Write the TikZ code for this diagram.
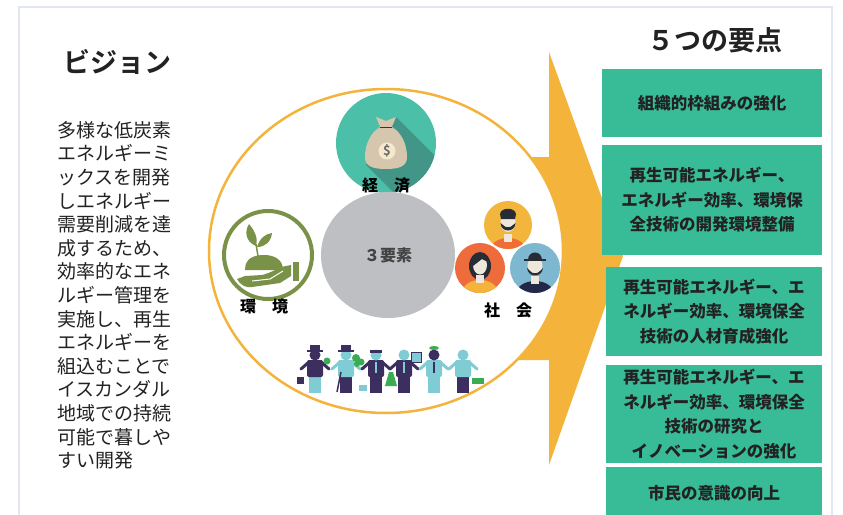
\documentclass[tikz,border=0pt]{standalone}
\usepackage{fontspec}
\setmainfont{Noto Sans CJK JP}[BoldFont={Noto Sans CJK JP Bold}]
\newfontfamily\heavyfont{Noto Sans CJK JP Black}
\usetikzlibrary{positioning}

\definecolor{arrowYellow}{RGB}{244,180,60}
\definecolor{boxGreen}{RGB}{56,188,152}
\definecolor{frameBlue}{RGB}{226,230,243}
\definecolor{ecoTeal}{RGB}{76,191,168}
\definecolor{ecoShadow}{RGB}{66,150,136}
\definecolor{bagBeige}{RGB}{214,198,174}
\definecolor{bagCream}{RGB}{246,232,205}
\definecolor{envOlive}{RGB}{122,145,72}
\definecolor{coreGray}{RGB}{190,191,195}
\definecolor{faceOrange}{RGB}{243,182,60}
\definecolor{faceRed}{RGB}{238,108,60}
\definecolor{faceBlue}{RGB}{125,184,208}
\definecolor{skin}{RGB}{238,232,220}
\definecolor{hairDark}{RGB}{40,44,52}
\definecolor{crowdPurple}{RGB}{60,46,94}
\definecolor{crowdCyan}{RGB}{128,204,212}
\definecolor{leafGreen}{RGB}{58,172,82}
\definecolor{textDark}{RGB}{34,34,34}

\begin{document}
\begin{tikzpicture}[
        x=1pt, y=-1pt,
        % Define styles for consistency
        frame/.style={draw=frameBlue, line width=1.5pt},
        heading/.style={font=\fontsize{27}{30}\bfseries\selectfont, text=textDark, inner sep=0pt},
        pointbox/.style={fill=boxGreen, text=textDark, align=center, inner sep=0pt,
            font=\fontsize{16.5}{24.5}\heavyfont},
        tag/.style={font=\fontsize{16}{18}\heavyfont, text=black, inner sep=0pt}
    ]

        \useasboundingbox (0,0) rectangle (843,514);
        \fill[white] (0,0) rectangle (843,514);

        % --- Coordinates ---
        % Three elements
        \coordinate (core) at (388,255);
        \coordinate (eco) at (386,143);
        \coordinate (env) at (268,255);
        \coordinate (soc_top) at (508,225);
        \coordinate (soc_left) at (480,268);
        \coordinate (soc_right) at (535,268);

        % Outer frame
        \draw[frame] (19,7) rectangle (832,530);

        % --- Arrow (behind the big circle) ---
        \fill[arrowYellow] (500,157) -- (549,157) -- (549,52) -- (623,256)
            -- (549,465) -- (549,360) -- (500,360) -- cycle;
        \draw[arrowYellow, line width=2.5pt, fill=white] (386,251) ellipse [x radius=177, y radius=162];

        % --- Vision ---
        \node[heading] (vision) at (117,62) {ビジョン};
        \node[anchor=north west, align=left, inner sep=0pt, text=textDark,
            font=\fontsize{19}{23.6}\selectfont] (vision_text) at (57,121)
            {多様な低炭素\\エネルギーミ\\ックスを開発\\しエネルギー\\需要削減を達\\
             成するため、\\効率的なエネ\\ルギー管理を\\実施し、再生\\エネルギーを\\
             組込むことで\\イスカンダル\\地域での持続\\可能で暮しや\\すい開発};

        % --- Economy: money bag ---
        \fill[ecoTeal] (eco) circle (50);
        \begin{scope}
            \clip (eco) circle (50);
            \fill[ecoShadow] (396,117) -- (496,217) -- (466,265) -- (366,165) -- cycle;
        \end{scope}
        \fill[bagBeige] (380,127) .. controls (370,133) and (365,145) .. (365,157)
            .. controls (365,166) and (372,169) .. (386,169)
            .. controls (400,169) and (407,166) .. (407,157)
            .. controls (407,145) and (402,133) .. (392,127) -- cycle;
        \fill[bagBeige] (381,129) -- (376,117) -- (386,121) -- (396,117) -- (391,129) -- cycle;
        \draw[red!70!black, line width=1.5pt] (380,127.5) -- (392,127.5);
        \fill[bagCream] (387,151) circle (8.5);
        \node[font=\fontsize{13}{13}\bfseries\selectfont, text=gray!80!black, inner sep=0pt]
            (dollar) at (387,151) {\$};
        \node[tag] (eco_label) at (386,186) {経　済};

        % --- Core ---
        \fill[coreGray] (core) ellipse [x radius=67, y radius=63];
        \node[font=\fontsize{16}{18}\heavyfont, text=textDark!85, inner sep=0pt]
            (core_label) at (core) {３要素};

        % --- Environment: hand and sprout ---
        \draw[envOlive, line width=4pt] (env) circle (44);
        \fill[envOlive] (245,270) .. controls (245,258) and (254,255) .. (264,255)
            .. controls (275,255) and (283,260) .. (283,270) -- cycle;
        \draw[envOlive, line width=1.5pt] (258,256) -- (256,244);
        \fill[envOlive] (256,246) .. controls (246,242) and (244,232) .. (249,224)
            .. controls (256,232) and (258,240) .. (256,246) -- cycle;
        \fill[envOlive] (257,247) .. controls (260,238) and (265,234) .. (272,233)
            .. controls (271,242) and (265,247) .. (257,247) -- cycle;
        \fill[envOlive] (237,279) .. controls (240,285) and (246,288) .. (252,287)
            -- (280,283) -- (291,276) -- (291,265) -- (281,267)
            .. controls (275,270) and (270,273) .. (262,275) -- (245,276) -- cycle;
        \draw[white, line width=1pt] (252,281) -- (270,279) -- (283,271);
        \fill[envOlive] (293,262) rectangle (299,281);
        \node[tag] (env_label) at (264,306) {環　境};

        % --- Society: three faces ---
        \fill[faceOrange] (soc_top) circle (24);
        \begin{scope}
            \clip (soc_top) circle (24);
            \fill[faceRed!90!orange] (508,249) ellipse [x radius=17, y radius=11];
            \fill[skin] (504,234) rectangle (512,242);
            \fill[skin] (508,222) ellipse [x radius=7.5, y radius=10];
            \fill[hairDark] (500,214) .. controls (501,207) and (515,207) .. (516,214)
                -- (515,219) -- (501,219) -- cycle;
            \fill[hairDark] (500.5,223) .. controls (501,233) and (515,233) .. (515.5,223)
                -- (513,225) .. controls (511,228) and (505,228) .. (503,225) -- cycle;
        \end{scope}
        \fill[faceRed] (soc_left) circle (25);
        \begin{scope}
            \clip (soc_left) circle (25);
            \fill[hairDark] (480,266) ellipse [x radius=11, y radius=14];
            \fill[arrowYellow] (480,293) ellipse [x radius=18, y radius=13];
            \fill[skin] (476,275) rectangle (484,283);
            \fill[skin] (480,265) ellipse [x radius=7, y radius=9.5];
            \fill[hairDark] (472,262) .. controls (472,252) and (488,252) .. (488,262)
                -- (482,259) -- (473,266) -- cycle;
        \end{scope}
        \fill[faceBlue] (soc_right) circle (25);
        \begin{scope}
            \clip (soc_right) circle (25);
            \fill[hairDark!90!blue] (535,294) ellipse [x radius=19, y radius=13];
            \fill[skin] (531,276) rectangle (539,284);
            \fill[skin] (535,266) ellipse [x radius=7.5, y radius=9.5];
            \fill[hairDark] (527,268) .. controls (528,278) and (542,278) .. (543,268)
                -- (540,271) .. controls (538,274) and (532,274) .. (530,271) -- cycle;
            \fill[hairDark] (524,259) rectangle (546,261);
            \fill[hairDark] (528,260) .. controls (528,250) and (542,250) .. (542,260) -- cycle;
        \end{scope}
        \node[tag] (soc_label) at (508,310) {社　会};

        % --- People holding hands ---
        \foreach \i/\px/\head/\torso/\legs in {1/315/crowdPurple/crowdPurple/crowdCyan,
                2/346/crowdCyan/crowdCyan/crowdPurple, 3/376/crowdCyan/crowdPurple/crowdPurple,
                4/404/crowdCyan/crowdPurple/crowdPurple, 5/434/crowdPurple/crowdCyan/crowdCyan,
                6/463/crowdCyan/crowdCyan/crowdPurple} {
            \coordinate (crowd\i) at (\px,355);
            % arms reach out to both neighbours
            \draw[\torso, line width=3pt, line cap=round] (\px-14,369) -- (\px-6,362)
                -- (\px+6,362) -- (\px+14,369);
            \fill[\legs] (\px-6,373) rectangle (\px+6,393);
            \fill[\torso, rounded corners=2pt] (\px-8,360) rectangle (\px+8,377);
            \fill[\head] (crowd\i) circle (5.5);
        }
        % hats, ties and things they carry
        \foreach \px in {315,346} {
            \fill[crowdPurple] (\px-8,350) rectangle (\px+8,352);
            \fill[crowdPurple] (\px-5,345) rectangle (\px+5,351);
        }
        \fill[crowdPurple] (370,350) rectangle (382,353);
        \draw[crowdCyan, line width=1.5pt] (376,362) -- (376,373);
        \draw[crowdCyan, line width=1.5pt] (404,362) -- (404,373);
        \draw[crowdPurple, line width=1.5pt] (434,362) -- (434,373);
        \fill[crowdPurple] (297,377) rectangle (304,384);
        \draw[crowdPurple, line width=1.5pt] (341,372) -- (337,392);
        \fill[crowdCyan] (359,385) rectangle (367,391);
        \fill[leafGreen] (327,361) circle (3.5);
        \fill[leafGreen] (356,358) circle (4) (361,362) circle (3.5) (357,364) circle (3);
        \fill[leafGreen] (389,372) -- (393,372) -- (397,386) -- (385,386) -- cycle;
        \fill[crowdCyan] (411,352) rectangle (421,362);
        \draw[crowdPurple, line width=0.8pt] (411,352) rectangle (421,362);
        \fill[leafGreen] (434,348) ellipse [x radius=5, y radius=2];
        \fill[leafGreen] (472,378) rectangle (484,384);

        % --- Five key points ---
        \node[heading] (points) at (715,40) {５つの要点};
        \node[pointbox, minimum width=220, minimum height=68] (point1) at (712,103)
            {組織的枠組みの強化};
        \node[pointbox, minimum width=220, minimum height=110] (point2) at (712,200)
            {再生可能エネルギー、\\エネルギー効率、環境保\\全技術の開発環境整備};
        \node[pointbox, minimum width=216, minimum height=89] (point3) at (714,311.5)
            {再生可能エネルギー、エ\\ネルギー効率、環境保全\\技術の人材育成強化};
        \node[pointbox, minimum width=216, minimum height=98] (point4) at (714,414)
            {再生可能エネルギー、エ\\ネルギー効率、環境保全\\技術の研究と\\イノベーションの強化};
        \node[pointbox, minimum width=216, minimum height=53] (point5) at (714,493.5)
            {市民の意識の向上};

    \end{tikzpicture}
\end{document}
